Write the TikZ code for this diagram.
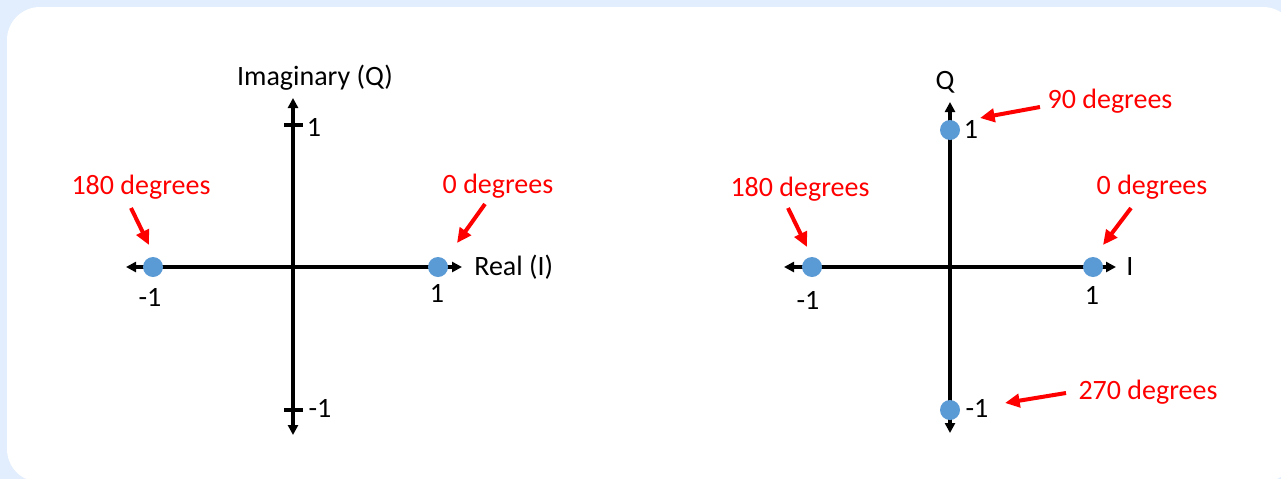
\documentclass[tikz,border=0pt]{standalone}
\usepackage{fontspec}
\setmainfont{Carlito}
\usetikzlibrary{arrows.meta}
\definecolor{bgc}{RGB}{226,238,253}
\definecolor{dotc}{RGB}{91,155,213}
\definecolor{degc}{RGB}{255,0,0}

\begin{document}
\begin{tikzpicture}[x=0.75pt, y=-0.75pt,
  axis/.style={line width=2.6pt, black,
               {Triangle[length=7.5pt,width=7.5pt]}-{Triangle[length=7.5pt,width=7.5pt]}},
  tickmark/.style={line width=2.6pt, black},
  sym/.style={circle, fill=dotc, inner sep=0pt, minimum size=15pt},
  num/.style={font=\fontsize{21}{25}\selectfont, text=black, inner sep=0pt},
  deg/.style={font=\fontsize{21}{25}\selectfont, text=degc, inner sep=0pt},
  ptr/.style={-{Triangle[length=11pt,width=10pt]}, line width=3pt, degc},
]
\path[use as bounding box] (0,0) rectangle (1281,479);

% background panel
\fill[bgc] (0,0) rectangle (1281,479);
\fill[white, rounded corners=24.75pt] (7,7) rectangle (1296,482);

% ---- left diagram: BPSK on I/Q axes ----
\coordinate (lW) at (126,267);
\coordinate (lE) at (462,267);
\coordinate (lN) at (293,98);
\coordinate (lS) at (293,435);
\draw[axis] (lW) -- (lE);
\draw[axis] (lN) -- (lS);
\draw[tickmark] (284,125) -- (303,125);
\draw[tickmark] (284,410) -- (303,410);

\node[num] (lqlab) at (315,78) {Imaginary (Q)};
\node[num, anchor=west] (lilab) at (474,267) {Real (I)};
\node[num] (lq1) at (314,127) {1};
\node[num] (lqm1) at (320,408) {-1};
\node[num] (li1) at (437,293) {1};
\node[num] (lim1) at (150,297) {-1};

\node[sym] (l0) at (438,267) {};
\node[sym] (l180) at (153,267) {};

\node[deg] (l180txt) at (141,187) {180 degrees};
\node[deg] (l0txt) at (498,186) {0 degrees};

\coordinate (l180a) at (131,208);
\coordinate (l180b) at (149,245);
\coordinate (l0a) at (485,204);
\coordinate (l0b) at (457,243);
\draw[ptr] (l180a) -- (l180b);
\draw[ptr] (l0a) -- (l0b);

% ---- right diagram: QPSK ----
\coordinate (rW) at (784,267);
\coordinate (rE) at (1116,267);
\coordinate (rN) at (950,102);
\coordinate (rS) at (950,433);
\draw[axis] (rW) -- (rE);
\draw[axis] (rN) -- (rS);

\node[num] (rqlab) at (945,82) {Q};
\node[num, anchor=west] (rilab) at (1126,267) {I};
\node[num] (rq1) at (971,129) {1};
\node[num] (rqm1) at (977,408) {-1};
\node[num] (ri1) at (1092,295) {1};
\node[num] (rim1) at (808,300) {-1};

\node[sym] (r0) at (1093,267) {};
\node[sym] (r90) at (950,130) {};
\node[sym] (r180) at (812,267) {};
\node[sym] (r270) at (950,410) {};

\node[deg] (r90txt) at (1110,101) {90 degrees};
\node[deg] (r180txt) at (800,189) {180 degrees};
\node[deg] (r0txt) at (1152,187) {0 degrees};
\node[deg] (r270txt) at (1148,392) {270 degrees};

\coordinate (r90a) at (1040,107);
\coordinate (r90b) at (980,118);
\coordinate (r180a) at (788,208);
\coordinate (r180b) at (807,247);
\coordinate (r0a) at (1131,208);
\coordinate (r0b) at (1103,245);
\coordinate (r270a) at (1066,393);
\coordinate (r270b) at (1005,403);
\draw[ptr] (r90a) -- (r90b);
\draw[ptr] (r180a) -- (r180b);
\draw[ptr] (r0a) -- (r0b);
\draw[ptr] (r270a) -- (r270b);

\end{tikzpicture}
\end{document}
